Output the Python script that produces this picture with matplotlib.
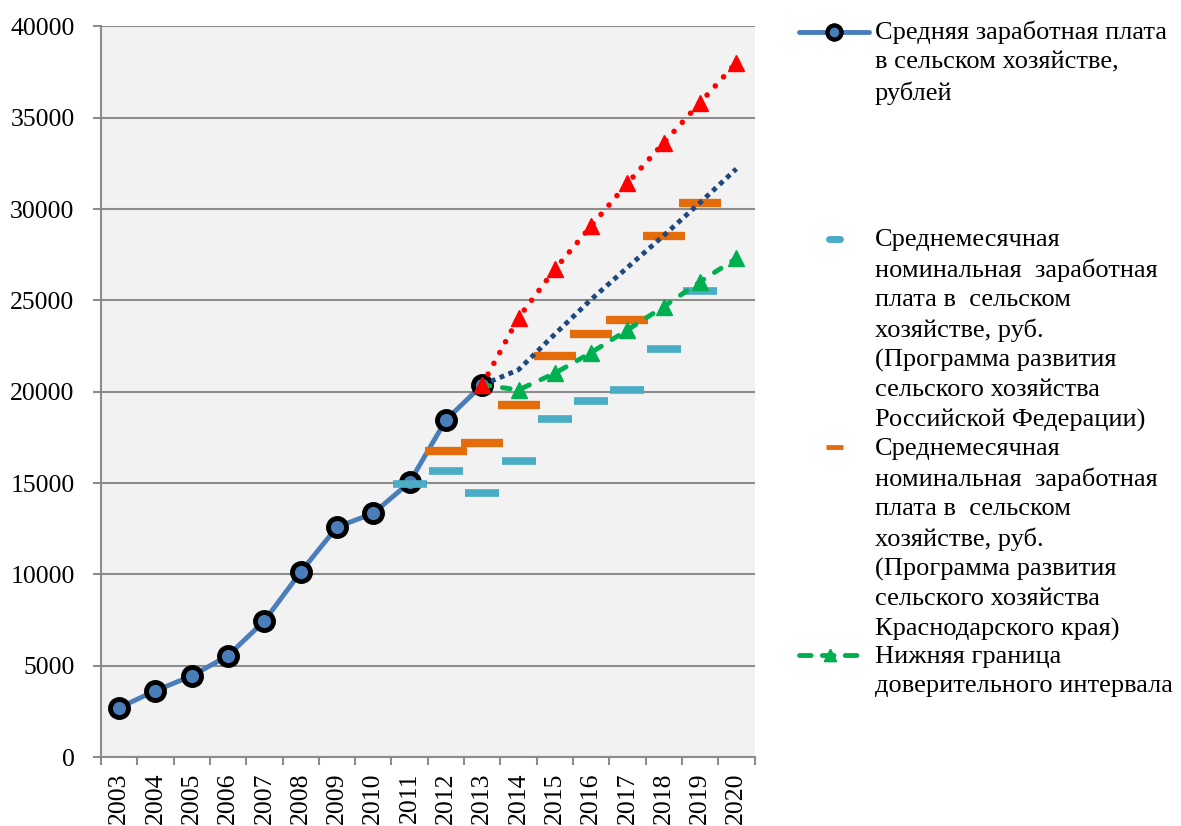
import matplotlib
matplotlib.use('Agg')
import matplotlib.pyplot as plt
from matplotlib.lines import Line2D

plt.rcParams['font.family'] = ['Liberation Serif', 'DejaVu Serif']

# Годы (категории оси X)
years = [str(y) for y in range(2003, 2021)]

# Средняя заработная плата в сельском хозяйстве, 2003-2013
salary = [2700, 3630, 4440, 5550, 7450, 10130, 12590, 13340, 15040, 18450, 20370]
# Программа РФ, 2011-2019
prog_rf = [14950, 15680, 14470, 16210, 18520, 19510, 20110, 22320, 25530]
# Программа Краснодарского края, 2012-2019
prog_kk = [16740, 17180, 19260, 21970, 23140, 23910, 28510, 30320]
# Прогноз, верхняя и нижняя граница, 2013-2020
trend = [20370, 21200, 23150, 25050, 26800, 28550, 30350, 32200]
upper = [20370, 24050, 26700, 29070, 31410, 33630, 35820, 38010]
lower = [20370, 20100, 21010, 22140, 23380, 24660, 26020, 27300]

labels = [
    'Средняя заработная плата\nв сельском хозяйстве,\nрублей',
    'Среднемесячная\nноминальная  заработная\nплата в  сельском\nхозяйстве, руб.\n'
    '(Программа развития\nсельского хозяйства\nРоссийской Федерации)',
    'Среднемесячная\nноминальная  заработная\nплата в  сельском\nхозяйстве, руб.\n'
    '(Программа развития\nсельского хозяйства\nКраснодарского края)',
    'Нижняя граница\nдоверительного интервала',
]

c_main = '#4A7EBB'
c_rf = '#4BACC6'
c_kk = '#E46C0A'
c_trend = '#1F497D'
c_up = '#FF0000'
c_low = '#00B050'
c_grid = '#8C8C8C'

W, H = 1181, 826
fig = plt.figure(figsize=(W / 100, H / 100), dpi=100)
ax = fig.add_axes([101 / W, 1 - 757 / H, 653.5 / W, (757 - 26.4) / H])
ax.set_facecolor('#F2F2F2')

x_sal = list(range(0, len(salary)))
x_rf = list(range(8, 8 + len(prog_rf)))
x_kk = list(range(9, 9 + len(prog_kk)))
x_fc = list(range(10, 10 + len(trend)))

ax.plot(x_sal, salary, color=c_main, lw=3.5, marker='o', ms=13,
        mfc=c_main, mec='black', mew=3.5, zorder=3, solid_capstyle='round')
ax.plot(x_rf, prog_rf, ls='none', marker='_', ms=24, mew=5.5, color=c_rf, zorder=4)
ax.plot(x_kk, prog_kk, ls='none', marker='_', ms=30, mew=6, color=c_kk, zorder=4)
ax.plot(x_fc, trend, color=c_trend, lw=3.5, ls=(0, (1, 0.95)), zorder=5)
ax.plot(x_fc, lower, color=c_low, lw=3.5, ls=(0, (1.6, 2.6)), dash_capstyle='round',
        marker='^', ms=11, mec=c_low, zorder=6)
ax.plot(x_fc, upper, color=c_up, lw=4, ls=(0, (0.01, 2.2)), dash_capstyle='round',
        marker='^', ms=12, mec=c_up, zorder=7)

ax.set_xlim(-0.5, len(years) - 0.5)
ax.set_ylim(0, 40000)
ax.set_yticks(range(0, 40001, 5000))
ax.yaxis.grid(True, color=c_grid, lw=1.5)
ax.set_axisbelow(True)
ax.set_xticks(range(len(years)))
ax.set_xticklabels(years, rotation=90)
ax.set_xticks([i - 0.5 for i in range(len(years) + 1)], minor=True)
ax.tick_params(axis='x', which='major', length=0, pad=11, labelsize=18.5)
ax.tick_params(axis='x', which='minor', length=6, width=1.5, color=c_grid)
ax.tick_params(axis='y', length=6, width=1.5, color=c_grid, pad=13, labelsize=18.5)
for s in ['top', 'right']:
    ax.spines[s].set_visible(False)
for s in ['left', 'bottom']:
    ax.spines[s].set_color(c_grid)
    ax.spines[s].set_linewidth(1.5)


def fp(x, y):
    return x / W, 1 - y / H


# Легенда вручную (маркер по первой строке подписи)
def add_handle(x0, x1, y, **kw):
    (a, b), (c, d) = fp(x0, y), fp(x1, y)
    fig.add_artist(Line2D([a, c], [b, d], transform=fig.transFigure, **kw))


add_handle(799, 869, 32, color=c_main, lw=3.5, solid_capstyle='round')
add_handle(834, 834, 32, ls='none', marker='o', ms=10, mfc=c_main, mec='black', mew=3)
add_handle(829, 840, 239, color=c_rf, lw=5, solid_capstyle='round')
add_handle(826, 843, 447, color=c_kk, lw=3.5, solid_capstyle='butt')
add_handle(799, 860, 655, color=c_low, lw=3.5, ls=(0, (2.4, 2.3)), dash_capstyle='round')
add_handle(830, 830, 655, ls='none', marker='^', ms=9, color=c_low)

text_base = [40, 248, 457, 665]
for lab, yb in zip(labels, text_base):
    x, y = fp(875, yb - 19)
    fig.text(x, y, lab, fontsize=19, va='top', ha='left', linespacing=1.41)

fig.savefig('out.png', dpi=100)
